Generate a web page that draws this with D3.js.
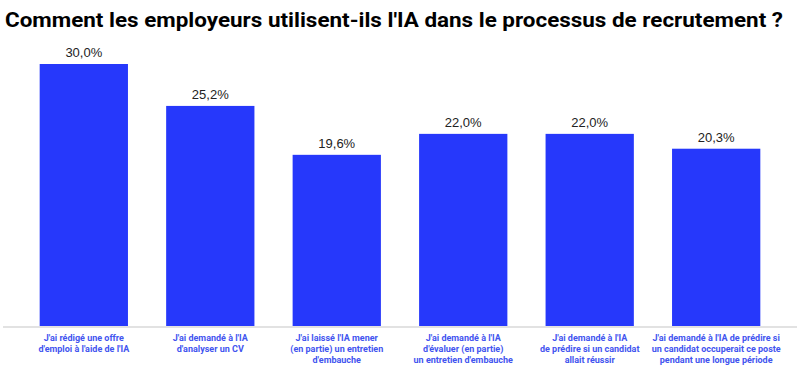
<!DOCTYPE html>
<html>
<head>
<meta charset="utf-8">
<script src="https://cdn.jsdelivr.net/npm/d3@7"></script>
<style>
  body { margin: 0; background: #fff; }
  svg { display: block; }
</style>
</head>
<body>
<svg id="chart" width="800" height="367"></svg>
<script>
// Données
const categories = [
  ["J'ai rédigé une offre", "d'emploi à l'aide de l'IA"],
  ["J'ai demandé à l'IA", "d'analyser un CV"],
  ["J'ai laissé l'IA mener", "(en partie) un entretien", "d'embauche"],
  ["J'ai demandé à l'IA", "d'évaluer (en partie)", "un entretien d'embauche"],
  ["J'ai demandé à l'IA", "de prédire si un candidat", "allait réussir"],
  ["J'ai demandé à l'IA de prédire si", "un candidat occuperait ce poste", "pendant une longue période"]
]
const values = [30.0, 25.2, 19.6, 22.0, 22.0, 20.3]
const title = "Comment les employeurs utilisent-ils l'IA dans le processus de recrutement ?"

const svg = d3.select('#chart')
const baseline = 326

const x = d3.scaleBand()
  .domain(d3.range(values.length))
  .range([3, 797])
  .paddingInner(0.302)
  .paddingOuter(0.29)

const y = d3.scaleLinear()
  .domain([0, 30])
  .range([baseline, 64])

svg.append('text')
  .attr('x', 5)
  .attr('y', 27)
  .attr('font-family', 'Roboto, sans-serif')
  .attr('font-weight', 'bold')
  .attr('font-size', '20px')
  .attr('fill', '#000')
  .attr('textLength', 778)
  .attr('lengthAdjust', 'spacingAndGlyphs')
  .text(title)

svg.selectAll('.bar')
  .data(values)
  .join('rect')
  .attr('class', 'bar')
  .attr('x', (d, i) => x(i))
  .attr('width', x.bandwidth())
  .attr('y', d => y(d))
  .attr('height', d => baseline - y(d))
  .attr('fill', '#2638fb')

svg.append('line')
  .attr('x1', 3).attr('x2', 797)
  .attr('y1', baseline + 1).attr('y2', baseline + 1)
  .attr('stroke', '#e2e2e2')
  .attr('stroke-width', 2)

svg.selectAll('.value')
  .data(values)
  .join('text')
  .attr('class', 'value')
  .attr('x', (d, i) => x(i) + x.bandwidth() / 2)
  .attr('y', d => y(d) - 7)
  .attr('text-anchor', 'middle')
  .attr('font-family', "'Liberation Sans', Arial, sans-serif")
  .attr('font-size', '13px')
  .attr('fill', '#222')
  .text(d => d3.format('.1f')(d).replace('.', ',') + '%')

const labels = svg.selectAll('.cat')
  .data(categories)
  .join('text')
  .attr('class', 'cat')
  .attr('text-anchor', 'middle')
  .attr('font-family', 'Roboto, sans-serif')
  .attr('font-weight', 'bold')
  .attr('font-size', '9px')
  .attr('fill', '#4254ef')

labels.selectAll('tspan')
  .data((d, i) => d.map(t => ({ t, i })))
  .join('tspan')
  .attr('x', d => x(d.i) + x.bandwidth() / 2)
  .attr('y', (d, j) => 341 + j * 11)
  .text(d => d.t)
</script>
</body>
</html>
